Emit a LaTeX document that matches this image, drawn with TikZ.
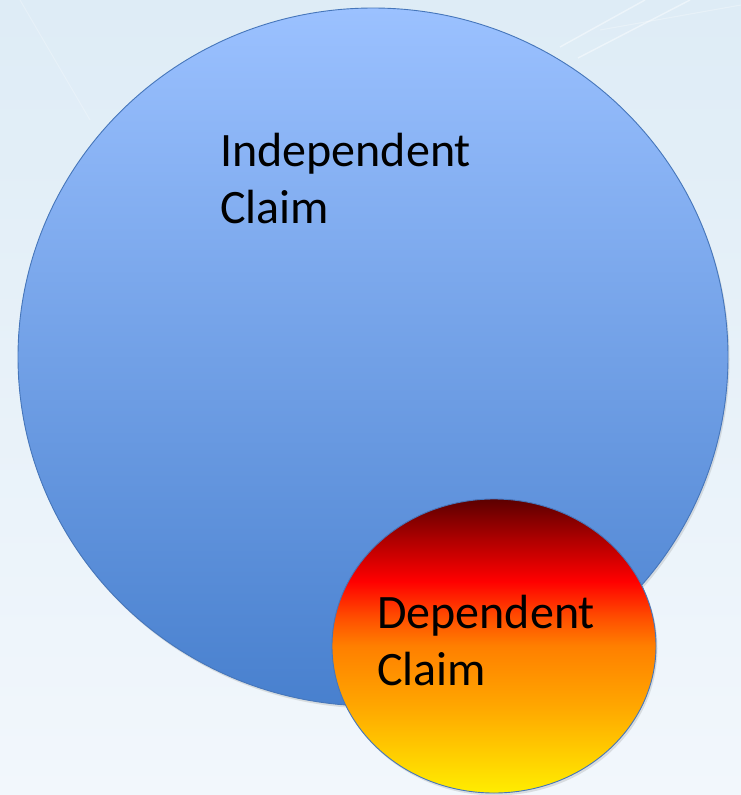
\documentclass[tikz,border=0pt]{standalone}
\usepackage{fontspec}
\setmainfont{Carlito}
\usetikzlibrary{shadows}
\definecolor{bgtop}{RGB}{222,236,246}
\definecolor{bgbot}{RGB}{242,247,252}
\definecolor{bigtop}{RGB}{155,193,255}
\definecolor{bigbot}{RGB}{72,128,206}
\definecolor{rimblue}{RGB}{70,118,186}
\pgfdeclareverticalshading{depshade}{100bp}{%
  rgb(0bp)=(1,0.93,0);
  rgb(25bp)=(1,0.93,0);
  rgb(40bp)=(1,0.65,0);
  rgb(50bp)=(1,0.5,0);
  rgb(55bp)=(1,0.3,0);
  rgb(61bp)=(1,0,0);
  rgb(68bp)=(0.69,0,0);
  rgb(75bp)=(0.36,0,0);
  rgb(100bp)=(0.36,0,0)}
\tikzset{
  bgline/.style={white, opacity=0.45, line width=1.4pt},
  circleshadow/.style={drop shadow={opacity=0.22, shadow xshift=1.5pt, shadow yshift=-2.5pt}},
  bigcirc/.style={draw=rimblue, line width=0.9pt, top color=bigtop, bottom color=bigbot, circleshadow},
  smallcirc/.style={draw=rimblue, line width=0.9pt, shading=depshade, circleshadow},
  claimtext/.style={font=\fontsize{48}{57}\selectfont, align=left, inner sep=0pt, text=black}
}
\begin{document}
\begin{tikzpicture}[x=1pt,y=-1pt]
\useasboundingbox (0,0) rectangle (741,795);
\shade[top color=bgtop, bottom color=bgbot] (0,0) rectangle (741,795);
\draw[bgline] (560,47) -- (645,0);
\draw[bgline] (578,58) -- (690,0);
\draw[white, opacity=0.3, line width=1pt] (600,30) -- (741,5);
\draw[white, opacity=0.25, line width=1pt] (20,0) -- (90,120);
\draw[bigcirc] (373,357) ellipse [x radius=355, y radius=349];
\node[claimtext, anchor=north west] (ind) at (220,133) {Independent\\Claim};
\draw[smallcirc] (494,646) ellipse [x radius=162, y radius=147];
\node[claimtext, anchor=north west] (dep) at (377,595) {Dependent\\Claim};
\end{tikzpicture}
\end{document}
